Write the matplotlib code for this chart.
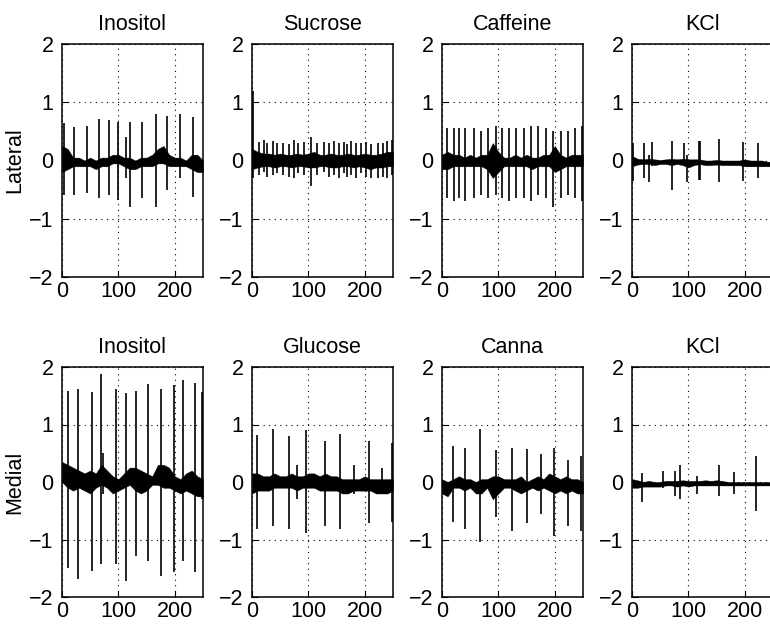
import matplotlib
matplotlib.use('Agg')  # no display
import matplotlib.pyplot as plt

plt.rcParams['font.family'] = ['Liberation Sans', 'DejaVu Sans']

# Time grid for the baseline envelope of every trace
base_t = list(range(0, 251, 10))

titles = ['Inositol', 'Sucrose', 'Caffeine', 'KCl',
          'Inositol', 'Glucose', 'Canna', 'KCl']
row_labels = ['Lateral', 'Medial']

# ---- Lateral: Inositol
lat_ino_t = [4, 22, 45, 65, 83, 99, 113, 121, 142, 166, 186, 210, 232]
lat_ino_hi = [0.65, 0.58, 0.6, 0.71, 0.7, 0.66, 0.4, 0.66, 0.66, 0.8, 0.77, 0.79, 0.75]
lat_ino_lo = [-0.6, -0.6, -0.55, -0.65, -0.6, -0.68, -0.3, -0.8, -0.65, -0.8, -0.5, -0.3, -0.62]
lat_ino_base_hi = [0.25, 0.2, 0.05, 0.05, 0.0, 0.05, 0.0, 0.05, 0.05, 0.1, 0.1, 0.05, 0.05,
                   0.0, 0.05, 0.05, 0.1, 0.2, 0.25, 0.1, 0.05, 0.05, 0.0, 0.1, 0.1, 0.0]
lat_ino_base_lo = [-0.2, -0.15, -0.1, -0.1, -0.1, -0.1, -0.15, -0.1, -0.1, -0.05, -0.05, -0.1, -0.15,
                   -0.15, -0.1, -0.1, -0.1, -0.05, -0.05, -0.1, -0.1, -0.1, -0.1, -0.15, -0.2, -0.2]

# ---- Lateral: Sucrose
lat_suc_t = [1, 13, 21, 27, 38, 45, 55, 65, 74, 81, 92, 104, 115, 127, 136, 145, 154,
             163, 169, 175, 184, 193, 202, 211, 223, 232, 240, 249]
lat_suc_hi = [1.2, 0.32, 0.35, 0.3, 0.33, 0.3, 0.3, 0.28, 0.35, 0.3, 0.32, 0.4, 0.3, 0.32,
              0.3, 0.33, 0.3, 0.32, 0.28, 0.33, 0.3, 0.3, 0.32, 0.28, 0.3, 0.3, 0.33, 0.35]
lat_suc_lo = [-0.3, -0.25, -0.2, -0.28, -0.25, -0.22, -0.25, -0.28, -0.3, -0.22, -0.25, -0.43,
              -0.25, -0.2, -0.28, -0.25, -0.3, -0.22, -0.28, -0.25, -0.3, -0.22, -0.28, -0.3,
              -0.3, -0.28, -0.3, -0.25]
lat_suc_base_hi = [0.2, 0.15, 0.12, 0.12, 0.1, 0.12, 0.1, 0.1, 0.12, 0.1, 0.12, 0.15, 0.1,
                   0.1, 0.12, 0.1, 0.1, 0.12, 0.1, 0.1, 0.12, 0.1, 0.1, 0.12, 0.15, 0.15]
lat_suc_base_lo = [-0.15, -0.12, -0.1, -0.1, -0.12, -0.1, -0.1, -0.12, -0.1, -0.1, -0.12, -0.12, -0.1,
                   -0.1, -0.12, -0.12, -0.1, -0.1, -0.12, -0.1, -0.12, -0.15, -0.12, -0.12, -0.1, -0.1]

# ---- Lateral: Caffeine
lat_caf_t = [8, 21, 31, 41, 56, 69, 82, 95, 107, 119, 132, 145, 157, 170, 184, 196,
             211, 224, 236, 249]
lat_caf_hi = [0.55, 0.55, 0.55, 0.55, 0.55, 0.5, 0.55, 0.6, 0.55, 0.55, 0.55, 0.55, 0.6,
              0.6, 0.55, 0.5, 0.5, 0.5, 0.55, 0.6]
lat_caf_lo = [-0.65, -0.7, -0.65, -0.7, -0.65, -0.6, -0.65, -0.6, -0.65, -0.7, -0.65, -0.65,
              -0.7, -0.6, -0.65, -0.8, -0.65, -0.6, -0.65, -0.7]
lat_caf_base_hi = [0.1, 0.15, 0.1, 0.1, 0.05, 0.1, 0.05, 0.1, 0.1, 0.3, 0.15, 0.05, 0.05,
                   0.1, 0.05, 0.1, 0.05, 0.05, 0.1, 0.1, 0.25, 0.1, 0.05, 0.1, 0.1, 0.1]
lat_caf_base_lo = [-0.15, -0.15, -0.1, -0.1, -0.1, -0.1, -0.1, -0.1, -0.15, -0.3, -0.2, -0.1, -0.1,
                   -0.1, -0.1, -0.1, -0.15, -0.1, -0.1, -0.1, -0.2, -0.15, -0.1, -0.1, -0.1, -0.1]

# ---- Lateral: KCl
lat_kcl_t = [2, 21, 31, 35, 71, 92, 98, 118, 121, 155, 196, 223]
lat_kcl_hi = [0.3, 0.3, 0.1, 0.32, 0.33, 0.3, 0.1, 0.34, 0.34, 0.37, 0.32, 0.3]
lat_kcl_lo = [-0.35, -0.3, -0.37, -0.1, -0.5, -0.1, -0.37, -0.33, -0.33, -0.37, -0.35, -0.3]
lat_kcl_base_hi = [0.08, 0.03, 0.02, 0.03, 0.02, 0.01, 0.02, 0.03, 0.02, 0.03, 0.02, 0.02, 0.02,
                   0.0, 0.0, 0.01, 0.0, 0.0, 0.0, 0.0, 0.02, 0.0, 0.0, 0.0, -0.02, -0.02]
lat_kcl_base_lo = [-0.1, -0.07, -0.06, -0.06, -0.08, -0.06, -0.06, -0.08, -0.06, -0.08, -0.12, -0.08, -0.06,
                   -0.08, -0.08, -0.07, -0.08, -0.08, -0.08, -0.08, -0.1, -0.1, -0.1, -0.1, -0.1, -0.1]

# ---- Medial: Inositol
med_ino_t = [10, 29, 53, 69, 73, 95, 113, 132, 152, 175, 199, 214, 236, 249]
med_ino_hi = [1.58, 1.61, 1.57, 1.88, 0.5, 1.62, 1.54, 1.58, 1.7, 1.62, 1.68, 1.78, 1.72, 1.57]
med_ino_lo = [-1.49, -1.69, -1.54, -1.43, -0.2, -1.43, -1.72, -1.28, -1.37, -1.63, -1.57, -1.37,
              -1.57, -0.3]
med_ino_base_hi = [0.35, 0.3, 0.25, 0.2, 0.15, 0.2, 0.15, 0.3, 0.2, 0.1, 0.05, 0.15, 0.25,
                   0.25, 0.2, 0.15, 0.1, 0.3, 0.3, 0.25, 0.1, 0.05, 0.15, 0.2, 0.1, 0.05]
med_ino_base_lo = [0.0, -0.1, -0.15, -0.1, -0.15, -0.2, -0.1, -0.05, -0.1, -0.2, -0.15, -0.1, -0.05,
                   -0.15, -0.2, -0.15, -0.05, -0.05, -0.1, -0.1, -0.15, -0.2, -0.15, -0.2, -0.25, -0.25]

# ---- Medial: Glucose
med_glu_t = [8, 37, 65, 80, 96, 129, 156, 181, 208, 230, 249]
med_glu_hi = [0.82, 0.93, 0.8, 0.3, 0.9, 0.72, 0.83, 0.3, 0.72, 0.25, 0.67]
med_glu_lo = [-0.82, -0.77, -0.82, -0.3, -0.88, -0.77, -0.82, -0.2, -0.71, -0.2, -0.7]
med_glu_base_hi = [0.15, 0.15, 0.1, 0.1, 0.15, 0.1, 0.1, 0.15, 0.1, 0.1, 0.15, 0.15, 0.1,
                   0.15, 0.1, 0.1, 0.05, 0.05, 0.05, 0.05, 0.1, 0.05, 0.05, 0.05, 0.05, 0.05]
med_glu_base_lo = [-0.2, -0.15, -0.15, -0.15, -0.1, -0.1, -0.1, -0.1, -0.15, -0.1, -0.1, -0.1, -0.15,
                   -0.15, -0.15, -0.15, -0.2, -0.2, -0.15, -0.15, -0.15, -0.15, -0.2, -0.2, -0.2, -0.15]

# ---- Medial: Canna
med_can_t = [19, 41, 67, 96, 124, 150, 176, 199, 224, 246]
med_can_hi = [0.63, 0.6, 0.93, 0.55, 0.6, 0.57, 0.49, 0.6, 0.39, 0.45]
med_can_lo = [-0.7, -0.81, -1.05, -0.6, -0.85, -0.71, -0.55, -0.94, -0.76, -0.85]
med_can_base_hi = [0.05, 0.0, 0.05, 0.1, 0.05, 0.05, 0.0, 0.05, 0.05, 0.1, 0.1, 0.05, 0.05,
                   0.05, 0.1, 0.0, 0.05, 0.1, 0.05, 0.15, 0.1, 0.05, 0.1, 0.05, 0.05, 0.0]
med_can_base_lo = [-0.2, -0.25, -0.1, -0.1, -0.15, -0.1, -0.2, -0.2, -0.1, -0.3, -0.2, -0.1, -0.1,
                   -0.15, -0.2, -0.15, -0.1, -0.15, -0.1, -0.15, -0.2, -0.15, -0.2, -0.15, -0.2, -0.2]

# ---- Medial: KCl
med_kcl_t = [17, 55, 77, 85, 115, 154, 181, 220]
med_kcl_hi = [0.15, 0.2, 0.2, 0.3, 0.1, 0.3, 0.18, 0.45]
med_kcl_lo = [-0.35, -0.1, -0.25, -0.3, -0.2, -0.25, -0.2, -0.5]
med_kcl_base_hi = [0.05, 0.03, 0.0, 0.02, 0.0, 0.0, 0.02, 0.02, 0.02, 0.03, 0.02, 0.02, 0.02,
                   0.03, 0.02, 0.03, 0.02, 0.0, 0.0, 0.0, 0.0, 0.0, 0.0, 0.0, 0.0, 0.0]
med_kcl_base_lo = [-0.1, -0.1, -0.08, -0.08, -0.08, -0.08, -0.06, -0.06, -0.08, -0.06, -0.08, -0.06, -0.06,
                   -0.06, -0.06, -0.06, -0.06, -0.06, -0.06, -0.06, -0.06, -0.06, -0.06, -0.06, -0.06, -0.06]

panels = [
    (lat_ino_t, lat_ino_hi, lat_ino_lo, lat_ino_base_hi, lat_ino_base_lo),
    (lat_suc_t, lat_suc_hi, lat_suc_lo, lat_suc_base_hi, lat_suc_base_lo),
    (lat_caf_t, lat_caf_hi, lat_caf_lo, lat_caf_base_hi, lat_caf_base_lo),
    (lat_kcl_t, lat_kcl_hi, lat_kcl_lo, lat_kcl_base_hi, lat_kcl_base_lo),
    (med_ino_t, med_ino_hi, med_ino_lo, med_ino_base_hi, med_ino_base_lo),
    (med_glu_t, med_glu_hi, med_glu_lo, med_glu_base_hi, med_glu_base_lo),
    (med_can_t, med_can_hi, med_can_lo, med_can_base_hi, med_can_base_lo),
    (med_kcl_t, med_kcl_hi, med_kcl_lo, med_kcl_base_hi, med_kcl_base_lo),
]

W, H = 770, 628
fig = plt.figure(figsize=(W / 100, H / 100), dpi=100)

# panel boxes in pixels (left, top, width, height); last column runs off the page
lefts = [62, 252, 442, 632]
rows = [(44, 233), (367, 230)]
fs = 15.5

for i, (t, hi, lo, bhi, blo) in enumerate(panels):
    r, c = divmod(i, 4)
    top, ph = rows[r]
    ax = fig.add_axes([lefts[c] / W, 1 - (top + ph) / H, 141 / W, ph / H])

    ax.fill_between(base_t, blo, bhi, color='black', linewidth=0.3)
    ax.vlines(t, lo, hi, color='black', linewidth=1.2)

    ax.set_xlim(0, 250)
    ax.set_ylim(-2, 2)
    ax.set_xticks([0, 100, 200])
    ax.set_yticks([-2, -1, 0, 1, 2])
    ax.grid(True, color='black', linestyle=(0, (1, 4)), linewidth=0.8)
    ax.tick_params(direction='in', length=4, width=0.8, labelsize=fs)
    ax.tick_params(axis='y', pad=6)
    ax.tick_params(axis='x', pad=3)
    for s in ax.spines.values():
        s.set_linewidth(1.1)
    ax.set_title(titles[i], fontsize=fs, pad=10)
    if c == 0:
        ax.set_ylabel(row_labels[r], fontsize=fs, labelpad=3)

plt.savefig('out.png', dpi=100)
plt.close()
